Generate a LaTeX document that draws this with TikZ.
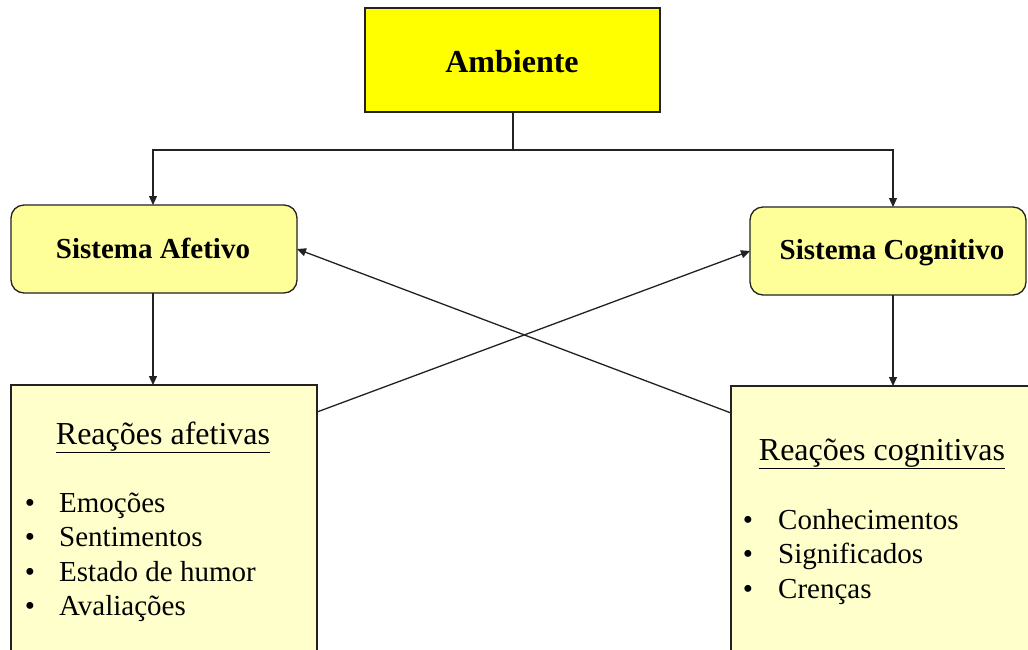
\documentclass[tikz,border=0pt]{standalone}
\usepackage{fontspec}
\setmainfont{Liberation Serif}
\usetikzlibrary{arrows.meta,calc}
\definecolor{amb}{HTML}{FFFF00}
\definecolor{sis}{HTML}{FFFF99}
\definecolor{rea}{HTML}{FFFFCC}
\definecolor{edge}{HTML}{222222}
\tikzset{
  line/.style={draw=edge,line width=1.3pt},
  arr/.style={line,-{Triangle[length=9pt,width=8pt]}},
  boxbase/.style={line,inner sep=0pt,outer sep=0pt,anchor=north west},
  sisbox/.style={boxbase,fill=sis,rounded corners=13pt},
  reabox/.style={boxbase,fill=rea},
  lbl/.style={inner sep=0pt,anchor=base},
  item/.style={inner sep=0pt,anchor=base west,font=\fontsize{29}{34}\selectfont},
  bul/.style={inner sep=0pt,anchor=base,font=\fontsize{29}{34}\selectfont},
}
\begin{document}
\begin{tikzpicture}[x=1pt,y=-1pt]
\clip (0,0) rectangle (1028,649);
\fill[white] (0,0) rectangle (1028,649);
% boxes
\node[boxbase,fill=amb,minimum width=295pt,minimum height=104pt] (amb) at (365,8) {};
\node[sisbox,minimum width=286pt,minimum height=88pt] (saf) at (11,205) {};
\node[sisbox,minimum width=276pt,minimum height=88pt] (scog) at (750,207) {};
\node[reabox,minimum width=306pt,minimum height=290pt] (raf) at (11,385) {};
\node[reabox,minimum width=320pt,minimum height=290pt] (rcog) at (731,386) {};
% labels
\node[lbl,font=\fontsize{32}{36}\selectfont\bfseries] (tamb) at (512,72) {Ambiente};
\node[lbl,font=\fontsize{29}{32}\selectfont\bfseries] (tsaf) at (153,258) {Sistema Afetivo};
\node[lbl,font=\fontsize{29}{32}\selectfont\bfseries] (tscog) at (892,259) {Sistema Cognitivo};
\node[lbl,font=\fontsize{32}{36}\selectfont] (hraf) at (163,444) {\underline{Reações afetivas}};
\node[lbl,font=\fontsize{32}{36}\selectfont] (hrcog) at (882,460) {\underline{Reações cognitivas}};
% left list
\node[bul] (b1) at (30,512) {•};
\node[item] (i1) at (59,512) {Emoções};
\node[bul] (b2) at (30,546.5) {•};
\node[item] (i2) at (59,546.5) {Sentimentos};
\node[bul] (b3) at (30,581) {•};
\node[item] (i3) at (59,581) {Estado de humor};
\node[bul] (b4) at (30,615.5) {•};
\node[item] (i4) at (59,615.5) {Avaliações};
% right list
\node[bul] (c1) at (748,529) {•};
\node[item] (j1) at (778,529) {Conhecimentos};
\node[bul] (c2) at (748,563.5) {•};
\node[item] (j2) at (778,563.5) {Significados};
\node[bul] (c3) at (748,598) {•};
\node[item] (j3) at (778,598) {Crenças};
% connectors
\coordinate (bus) at (513,150);
\coordinate (busl) at (153,150);
\coordinate (busr) at (893,150);
\draw[line] (amb.south -| bus) -- (bus);
\draw[arr] (bus) -- (busl) -- (saf.north -| busl);
\draw[arr] (bus) -- (busr) -- (scog.north -| busr);
\draw[arr] (saf.south -| busl) -- (raf.north -| busl);
\draw[arr] (scog.south -| busr) -- (rcog.north -| busr);
\coordinate (rafout) at (317,412);
\coordinate (rcogout) at (731,413);
\draw[arr] (rafout) -- (scog.west);
\draw[arr] (rcogout) -- (saf.east);
\end{tikzpicture}
\end{document}
